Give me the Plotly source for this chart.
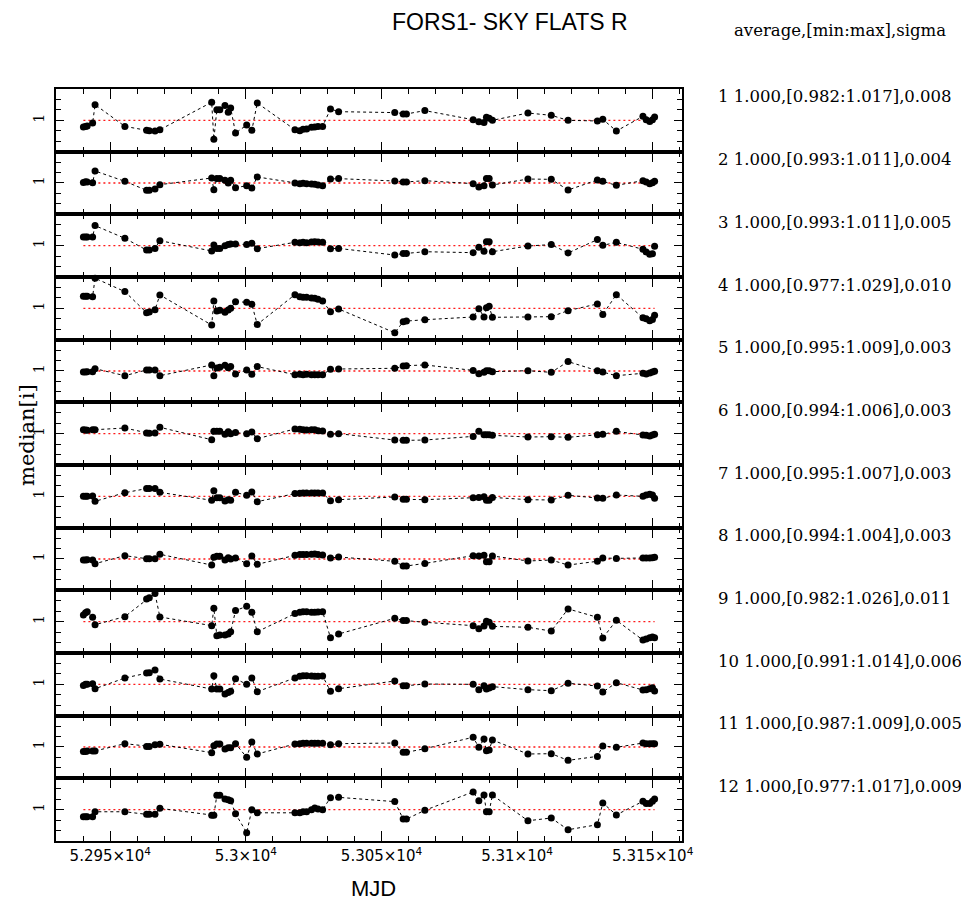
import plotly.graph_objects as go

# ---------------- data ----------------
mjd = [52940.1, 52940.9, 52941.5, 52943.5, 52944.4, 52955.4, 52963.4, 52964.4, 52966.5, 52968.3,
       52987.4, 52988.2, 52989.3, 52990.4, 52992.3, 52993.5, 52994.4, 52996.2, 53000.3, 53002.2,
       53004.2, 53018.1, 53019.9, 53021.1, 53022.4, 53024.2, 53025.4, 53026.6, 53028.3, 53031.2,
       53034.2, 53054.9, 53058.0, 53059.2, 53066.0, 53083.8, 53085.9, 53087.8, 53088.7, 53089.7,
       53090.9, 53104.0, 53112.6, 53118.8, 53129.6, 53131.6, 53136.6, 53146.4, 53147.6, 53148.9,
       53149.9, 53150.7]

p1 = [0.9936, 0.9942, 0.9946, 0.9974, 1.0150, 0.9942, 0.9904, 0.9900, 0.9898, 0.9910, 1.0173, 0.9818, 1.0102,
      1.0102, 1.0141, 1.0077, 1.0118, 0.9878, 0.9955, 0.9904, 1.0166, 0.9910, 0.9900, 0.9914, 0.9917, 0.9933,
      0.9936, 0.9940, 0.9942, 1.0109, 1.0083,
      1.0074, 1.0061, 1.0061, 1.0093, 1.0006, 0.9987, 0.9980, 1.0029, 1.0019, 1.0000, 1.0070, 1.0048, 1.0000,
      0.9994, 1.0010, 0.9898, 1.0038, 1.0006, 0.9990, 1.0006, 1.0032]
p2 = [1.0006, 1.0013, 1.0010, 1.0003, 1.0115, 1.0016, 0.9930, 0.9930, 0.9942, 0.9984, 1.0048, 0.9936, 1.0042,
      1.0042, 1.0026, 1.0000, 1.0026, 0.9955, 0.9974, 0.9952, 1.0058, 1.0000, 0.9994, 0.9997, 0.9994, 0.9990,
      0.9987, 0.9981, 0.9974, 1.0038, 1.0042,
      1.0019, 1.0010, 1.0010, 1.0022, 0.9994, 0.9962, 0.9974, 1.0042, 1.0042, 0.9981, 1.0038, 1.0035, 0.9933,
      1.0029, 1.0016, 0.9978, 1.0022, 1.0010, 0.9994, 1.0003, 1.0016]
p3 = [1.0083, 1.0083, 1.0083, 1.0083, 1.0192, 1.0070, 0.9958, 0.9958, 0.9974, 1.0048, 0.9949, 1.0006, 0.9974,
      0.9974, 1.0000, 1.0010, 1.0016, 1.0016, 1.0010, 1.0022, 0.9971, 1.0032, 1.0029, 1.0032, 1.0029, 1.0035,
      1.0038, 1.0035, 1.0032, 0.9971, 0.9974,
      0.9910, 0.9926, 0.9926, 0.9942, 0.9933, 0.9984, 0.9946, 1.0038, 1.0038, 0.9942, 0.9997, 1.0010, 0.9930,
      1.0058, 1.0003, 1.0032, 0.9965, 0.9940, 0.9917, 0.9923, 0.9994]
p4 = [1.0115, 1.0115, 1.0115, 1.0112, 1.0288, 1.0160, 0.9958, 0.9965, 0.9987, 1.0128, 0.9840, 1.0070, 0.9974,
      0.9981, 0.9962, 0.9984, 1.0000, 1.0064, 1.0058, 1.0038, 0.9846, 1.0131, 1.0112, 1.0106, 1.0106, 1.0099,
      1.0096, 1.0086, 1.0070, 0.9968, 0.9994,
      0.9766, 0.9872, 0.9878, 0.9891, 0.9917, 0.9997, 0.9917, 1.0006, 1.0019, 0.9914, 0.9917, 0.9920, 0.9978,
      1.0042, 0.9942, 1.0131, 0.9910, 0.9900, 0.9882, 0.9894, 0.9933]
p5 = [0.9990, 0.9990, 0.9994, 0.9994, 1.0022, 0.9955, 1.0010, 1.0010, 1.0010, 0.9955, 1.0058, 0.9955, 1.0029,
      1.0035, 1.0054, 1.0032, 1.0042, 0.9971, 1.0010, 0.9968, 1.0042, 0.9965, 0.9968, 0.9965, 0.9968, 0.9965,
      0.9965, 0.9965, 0.9965, 1.0016, 1.0019,
      1.0026, 1.0048, 1.0051, 1.0058, 1.0006, 0.9974, 0.9987, 1.0003, 1.0003, 0.9994, 1.0003, 0.9987, 1.0090,
      1.0003, 0.9990, 0.9955, 0.9978, 0.9971, 0.9981, 0.9990, 0.9997]
p6 = [1.0038, 1.0035, 1.0032, 1.0038, 1.0038, 1.0054, 1.0006, 1.0003, 1.0006, 1.0061, 0.9942, 1.0022, 1.0022,
      1.0022, 0.9994, 1.0019, 1.0000, 1.0010, 1.0000, 1.0016, 0.9952, 1.0045, 1.0042, 1.0038, 1.0035, 1.0038,
      1.0038, 1.0029, 1.0026, 0.9994, 1.0000,
      0.9939, 0.9936, 0.9936, 0.9939, 0.9974, 1.0022, 0.9990, 0.9990, 0.9990, 0.9984, 0.9968, 0.9971, 0.9965,
      0.9990, 0.9994, 1.0022, 0.9987, 0.9984, 0.9978, 0.9987, 0.9994]
p7 = [1.0000, 1.0000, 1.0000, 1.0003, 0.9952, 1.0035, 1.0074, 1.0074, 1.0074, 1.0038, 0.9962, 1.0054, 0.9987,
      0.9987, 0.9955, 0.9968, 0.9962, 1.0038, 1.0010, 1.0042, 0.9949, 1.0026, 1.0029, 1.0032, 1.0032, 1.0032,
      1.0032, 1.0032, 1.0032, 0.9958, 0.9968,
      0.9994, 0.9971, 0.9971, 0.9968, 0.9987, 0.9990, 0.9997, 0.9962, 0.9962, 0.9990, 0.9968, 0.9965, 1.0010,
      0.9984, 0.9981, 1.0013, 1.0000, 1.0013, 1.0019, 1.0013, 0.9981]
p8 = [0.9990, 0.9990, 0.9994, 0.9990, 0.9955, 1.0032, 1.0003, 1.0003, 1.0003, 1.0045, 0.9942, 1.0016, 1.0026,
      1.0026, 0.9990, 1.0013, 1.0000, 1.0010, 0.9955, 1.0029, 0.9949, 1.0035, 1.0042, 1.0042, 1.0042, 1.0045,
      1.0048, 1.0042, 1.0038, 1.0010, 1.0019,
      0.9978, 0.9933, 0.9933, 0.9958, 1.0032, 1.0029, 1.0035, 0.9974, 0.9974, 1.0029, 0.9981, 0.9990, 0.9942,
      0.9978, 1.0010, 1.0006, 1.0010, 1.0010, 1.0010, 1.0013, 1.0016]
p9 = [1.0064, 1.0086, 1.0096, 1.0042, 0.9971, 1.0048, 1.0218, 1.0230, 1.0269, 1.0045, 0.9962, 1.0128, 0.9866,
      0.9872, 0.9872, 0.9882, 0.9904, 1.0106, 1.0147, 1.0090, 0.9904, 1.0077, 1.0090, 1.0096, 1.0096, 1.0090,
      1.0090, 1.0093, 1.0096, 0.9846, 0.9882,
      1.0032, 1.0010, 1.0010, 0.9994, 0.9962, 0.9933, 0.9958, 1.0003, 0.9994, 0.9955, 0.9946, 0.9910, 1.0122,
      1.0042, 0.9843, 1.0013, 0.9824, 0.9834, 0.9846, 0.9853, 0.9846]
p10 = [0.9990, 1.0000, 1.0000, 1.0006, 0.9958, 1.0061, 1.0109, 1.0112, 1.0138, 1.0051, 0.9955, 1.0083, 0.9955,
       0.9955, 0.9907, 0.9923, 0.9933, 1.0054, 1.0000, 1.0061, 0.9930, 1.0061, 1.0077, 1.0083, 1.0083, 1.0080,
       1.0077, 1.0077, 1.0080, 0.9933, 0.9958,
       1.0032, 0.9987, 0.9987, 1.0003, 1.0000, 0.9949, 0.9987, 0.9955, 0.9965, 0.9978, 0.9949, 0.9939, 1.0010,
       0.9984, 0.9926, 1.0016, 0.9946, 0.9949, 0.9958, 0.9968, 0.9936]
p11 = [0.9958, 0.9958, 0.9962, 0.9962, 0.9962, 1.0032, 1.0006, 1.0006, 1.0022, 1.0026, 0.9946, 1.0013, 1.0029,
       1.0029, 0.9981, 0.9994, 0.9994, 1.0032, 0.9901, 1.0048, 0.9933, 1.0029, 1.0032, 1.0035, 1.0035, 1.0035,
       1.0035, 1.0035, 1.0035, 1.0022, 1.0032,
       1.0038, 0.9949, 0.9949, 0.9984, 1.0093, 0.9997, 1.0077, 0.9965, 0.9971, 1.0067, 0.9933, 0.9936, 0.9872,
       0.9910, 1.0010, 0.9997, 1.0038, 1.0032, 1.0032, 1.0032, 1.0032]
p12 = [0.9933, 0.9933, 0.9933, 0.9933, 0.9980, 0.9980, 0.9955, 0.9955, 0.9955, 1.0013, 0.9946, 0.9946, 1.0138,
       1.0138, 1.0102, 1.0096, 1.0086, 0.9960, 0.9780, 1.0000, 0.9970, 0.9970, 0.9970, 0.9980, 0.9980, 1.0000,
       1.0016, 1.0006, 1.0000, 1.0115, 1.0118,
       1.0077, 0.9910, 0.9910, 0.9994, 1.0170, 1.0086, 1.0140, 0.9980, 0.9980, 1.0140, 0.9894, 0.9920, 0.9808,
       0.9856, 1.0064, 0.9950, 1.0080, 1.0060, 1.0060, 1.0080, 1.0102]

panels = [p1, p2, p3, p4, p5, p6, p7, p8, p9, p10, p11, p12]

stat_avg = ["1.000"] * 12
stat_min = ["0.982", "0.993", "0.993", "0.977", "0.995", "0.994", "0.995", "0.994", "0.982", "0.991", "0.987", "0.977"]
stat_max = ["1.017", "1.011", "1.011", "1.029", "1.009", "1.006", "1.007", "1.004", "1.026", "1.014", "1.009", "1.017"]
stat_sig = ["0.008", "0.004", "0.005", "0.010", "0.003", "0.003", "0.003", "0.003", "0.011", "0.006", "0.005", "0.009"]

x_tickvals = [52950, 53000, 53050, 53100, 53150]
x_ticktext = ["5.295×10<sup>4</sup>", "5.3×10<sup>4</sup>", "5.305×10<sup>4</sup>",
              "5.31×10<sup>4</sup>", "5.315×10<sup>4</sup>"]
x_range = [52930, 53160.8]
y_range = [0.970, 1.030]
ref_level = 1.0

title_text = "FORS1- SKY FLATS R"
header_text = "average,[min:max],sigma"
xlabel = "MJD"
ylabel = "median[i]"

# ---------------- figure ----------------
W, H = 961, 901
ML, MR, MT, MB = 56, 279, 89, 60
n = len(panels)
plot_h = H - MT - MB
plot_w = W - ML - MR

fig = go.Figure()
layout = dict(
    width=W, height=H,
    margin=dict(l=ML, r=MR, t=MT, b=MB, pad=0),
    paper_bgcolor="white", plot_bgcolor="white",
    showlegend=False,
    font=dict(family="DejaVu Sans", color="black"),
)

for i, vals in enumerate(panels):
    k = "" if i == 0 else str(i + 1)
    xa = "x" + k
    ya = "y" + k
    # red reference line spanning the data
    fig.add_trace(go.Scatter(
        x=[mjd[0], mjd[-1]], y=[ref_level, ref_level], mode="lines",
        line=dict(color="#ff1a1a", width=1.4, dash="2px,3px"),
        xaxis=xa, yaxis=ya, hoverinfo="skip"))
    fig.add_trace(go.Scatter(
        x=mjd, y=vals, mode="lines+markers",
        line=dict(color="black", width=1, dash="3px,3px"),
        marker=dict(color="black", size=7),
        cliponaxis=False,
        xaxis=xa, yaxis=ya))
    top = 1 - i / n
    bot = 1 - (i + 1) / n
    last = (i == n - 1)
    layout["xaxis" + k] = dict(
        domain=[0, 1], anchor=ya, range=x_range,
        matches=None if i == 0 else "x",
        showline=True, linecolor="black", linewidth=2, mirror="allticks",
        ticks="inside", ticklen=10, tickwidth=1, tickcolor="black",
        tickmode="array", tickvals=x_tickvals, ticktext=x_ticktext,
        showticklabels=last,
        tickfont=dict(family="DejaVu Sans", size=15, color="black"),
        minor=dict(ticks="inside", ticklen=5, tickwidth=1, tickcolor="black",
                   dtick=10, tick0=52950, showgrid=False),
        showgrid=False, zeroline=False,
    )
    layout["yaxis" + k] = dict(
        domain=[bot, top], anchor=xa, range=y_range,
        showline=True, linecolor="black", linewidth=2, mirror="allticks",
        ticks="inside", ticklen=8, tickwidth=1, tickcolor="black",
        tickmode="array", tickvals=[ref_level], ticktext=["1"],
        tickangle=-90,
        tickfont=dict(family="DejaVu Serif", size=14, color="black"),
        ticklabelstandoff=4,
        minor=dict(ticks="inside", ticklen=5, tickwidth=1, tickcolor="black",
                   dtick=0.01, tick0=1.0, showgrid=False),
        showgrid=False, zeroline=False,
    )

fig.update_layout(**layout)

def px_x(p):
    return (p - ML) / plot_w

def px_y(p):
    return (H - MB - p) / plot_h

ann = []
ann.append(dict(text=title_text, x=px_x(510), y=px_y(22), xref="paper", yref="paper",
                xanchor="center", yanchor="middle", showarrow=False,
                font=dict(family="Liberation Sans", size=23, color="black")))
ann.append(dict(text=header_text, x=px_x(732), y=px_y(30), xref="paper", yref="paper",
                xanchor="left", yanchor="middle", showarrow=False,
                font=dict(family="DejaVu Serif", size=16.5, color="black")))
for i in range(n):
    row_y = MT + 8 + i * plot_h / n
    txt = f"{i + 1} {stat_avg[i]},[{stat_min[i]}:{stat_max[i]}],{stat_sig[i]}"
    ann.append(dict(text=txt, x=px_x(716), y=px_y(row_y), xref="paper", yref="paper",
                    xanchor="left", yanchor="middle", showarrow=False,
                    font=dict(family="DejaVu Serif", size=16.5, color="black")))
ann.append(dict(text=xlabel, x=px_x(373), y=px_y(888), xref="paper", yref="paper",
                xanchor="center", yanchor="middle", showarrow=False,
                font=dict(family="Liberation Sans", size=22, color="black")))
ann.append(dict(text=ylabel, x=px_x(27), y=px_y(435), xref="paper", yref="paper",
                xanchor="center", yanchor="middle", showarrow=False, textangle=-90,
                font=dict(family="DejaVu Serif", size=21, color="black")))
fig.update_layout(annotations=ann)

fig.write_html("out.html", config={"displayModeBar": False},
               post_script="document.body.style.margin='0';")
